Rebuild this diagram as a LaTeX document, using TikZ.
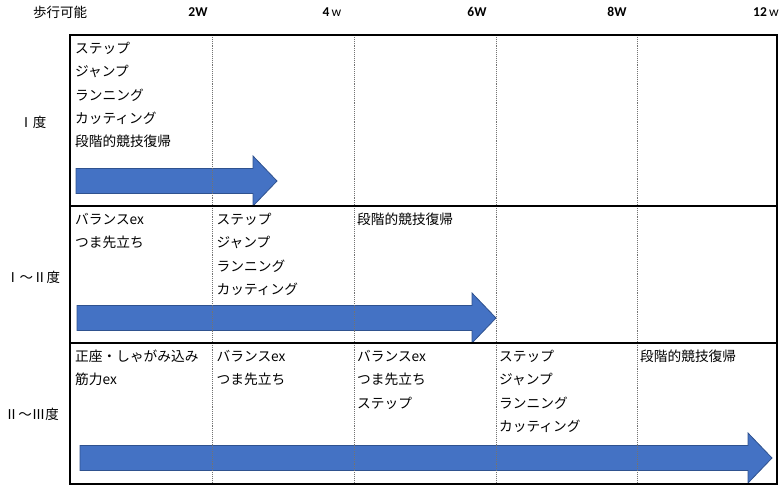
\documentclass[tikz,border=0pt]{standalone}
\usepackage{fontspec}
\setmainfont{Noto Sans CJK JP}
\newfontfamily\wkfont{Carlito}
\usetikzlibrary{positioning}
\definecolor{arrfill}{HTML}{4472C4}
\definecolor{arrline}{HTML}{2F528F}
\tikzstyle{it}=[anchor=west, inner sep=0pt, font=\fontsize{13.7}{16}\selectfont]
\tikzstyle{hd}=[inner sep=0pt, font=\wkfont\fontsize{13.5}{15}\selectfont]
\tikzstyle{rw}=[inner sep=0pt, font=\fontsize{13.5}{16}\selectfont]
\tikzstyle{ar}=[fill=arrfill, draw=arrline, line width=0.8pt]
\tikzstyle{sep}=[draw=black!55, densely dotted, line width=0.9pt]
\newcommand{\blockarrow}[3]{%
  \draw[ar] (#1,{#3-12.5}) -- ({#2-24},{#3-12.5}) -- ({#2-24},{#3-25}) -- (#2,#3)
    -- ({#2-24},{#3+25}) -- ({#2-24},{#3+12.5}) -- (#1,{#3+12.5}) -- cycle;}
\begin{document}
\begin{tikzpicture}[x=1pt,y=-1pt]
\useasboundingbox (0,0) rectangle (781,488);
% header
\node [rw] (walk) at (60,12) {歩行可能};
\node [hd] (w2) at (198,12) {\textbf{2W}};
\node [hd] (w4) at (332,12) {\textbf{4}\,w};
\node [hd] (w6) at (477,12) {\textbf{6W}};
\node [hd] (w8) at (617,12) {\textbf{8W}};
\node [hd] (w12) at (766,12) {\textbf{12}\,w};
% row labels
\node [rw] (g1) at (33,122) {Ⅰ度};
\node [rw] (g2) at (33,277) {Ⅰ～Ⅱ度};
\node [rw] (g3) at (32,414) {Ⅱ～Ⅲ度};
% arrows
\blockarrow{76}{277}{181}
\blockarrow{77}{496}{318}
\blockarrow{80}{772}{458}
% grid
\foreach \x in {212.5,354,496,637.5}
  \draw [sep] (\x,35) -- (\x,484);
\draw [line width=1.5pt] (70,206) -- (777,206);
\draw [line width=1.5pt] (70,343) -- (777,343);
\draw [line width=2pt] (70,35) rectangle (777,484);
% row 1
\foreach \t [count=\i] in {ステップ,ジャンプ,ランニング,カッティング,段階的競技復帰}
  \node [it] (a\i) at (75,{48+23.4*(\i-1)}) {\t};
% row 2
\foreach \t [count=\i] in {バランスex,つま先立ち}
  \node [it] (b\i) at (75,{219+23.4*(\i-1)}) {\t};
\foreach \t [count=\i] in {ステップ,ジャンプ,ランニング,カッティング}
  \node [it] (c\i) at (216.5,{219+23.4*(\i-1)}) {\t};
\node [it] (d1) at (357,219) {段階的競技復帰};
% row 3
\foreach \t [count=\i] in {正座・しゃがみ込み,筋力ex}
  \node [it] (e\i) at (75,{356+23.5*(\i-1)}) {\t};
\foreach \t [count=\i] in {バランスex,つま先立ち}
  \node [it] (f\i) at (216.5,{356+23.5*(\i-1)}) {\t};
\foreach \t [count=\i] in {バランスex,つま先立ち,ステップ}
  \node [it] (h\i) at (357,{356+23.5*(\i-1)}) {\t};
\foreach \t [count=\i] in {ステップ,ジャンプ,ランニング,カッティング}
  \node [it] (k\i) at (499,{356+23.5*(\i-1)}) {\t};
\node [it] (m1) at (640,356) {段階的競技復帰};
\end{tikzpicture}
\end{document}
